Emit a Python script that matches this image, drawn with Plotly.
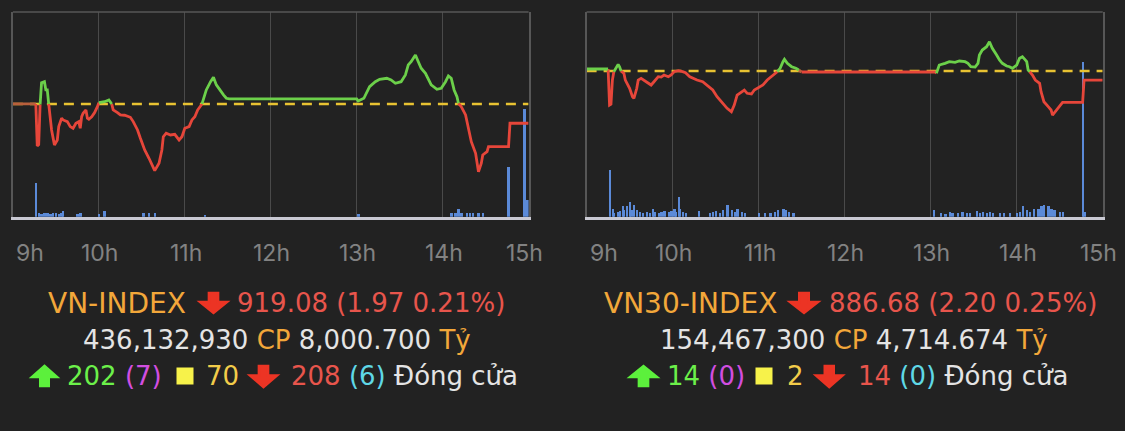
import plotly.graph_objects as go

# ---------------- data ----------------
hour_labels = ["9h", "10h", "11h", "12h", "13h", "14h", "15h"]

# VN-INDEX intraday
vn_ref = 921.05
vn_times = ["09:00", "09:16", "09:17", "09:18", "09:19", "09:20", "09:22", "09:23", "09:24", "09:25",
            "09:26", "09:27", "09:29", "09:31", "09:32", "09:34", "09:35", "09:38", "09:40", "09:42",
            "09:44", "09:46", "09:47", "09:48", "09:49", "09:51", "09:52", "09:53", "09:55", "09:57",
            "09:59", "10:00", "10:04", "10:07", "10:09", "10:10", "10:13", "10:15", "10:18", "10:22",
            "10:24", "10:27", "10:29", "10:32", "10:35", "10:37", "10:39", "10:42", "10:44", "10:45",
            "10:47", "10:50", "10:53", "10:56", "10:58", "11:00", "11:03", "11:05", "11:07", "11:09",
            "11:12", "11:13", "11:15", "11:18", "11:20", "11:22", "11:25", "11:27", "11:29", "11:31",
            "13:00", "13:01", "13:05", "13:07", "13:09", "13:13", "13:16", "13:21", "13:24", "13:27",
            "13:29", "13:31", "13:34", "13:36", "13:38", "13:41", "13:43", "13:45", "13:48", "13:50",
            "13:52", "13:56", "13:59", "14:02", "14:04", "14:06", "14:08", "14:10", "14:11", "14:13",
            "14:16", "14:18", "14:20", "14:23", "14:24", "14:25", "14:27", "14:28", "14:31", "14:32",
            "14:46", "14:47", "15:00"]
vn_price = [921.05, 921.05, 916.77, 916.90, 921.00, 923.22, 923.32, 922.48, 922.48, 921.05,
            919.75, 918.40, 916.87, 917.38, 918.74, 919.59, 919.42, 919.25, 918.74, 918.57,
            919.08, 919.25, 918.57, 919.75, 920.10, 920.44, 919.59, 919.49, 919.75, 920.16,
            920.77, 921.18, 921.28, 921.46, 921.05, 920.44, 920.16, 919.93, 919.90, 919.69,
            919.25, 918.40, 917.55, 916.36, 915.51, 914.83, 914.25, 915.00, 916.36, 917.71,
            918.06, 917.89, 917.95, 917.38, 917.71, 918.57, 918.74, 919.42, 919.75, 920.44,
            921.05, 921.46, 922.48, 923.32, 923.77, 922.99, 922.30, 921.97, 921.63, 921.56,
            921.56, 921.36, 921.63, 922.30, 922.81, 923.32, 923.57, 923.67, 923.50, 923.16,
            923.22, 923.32, 924.01, 925.03, 925.36, 926.05, 925.36, 924.69, 924.18, 923.50,
            922.99, 922.55, 922.65, 923.32, 923.91, 923.67, 922.48, 921.79, 921.12, 920.77,
            919.93, 918.57, 917.20, 916.02, 915.00, 914.14, 915.00, 915.85, 916.19, 916.70,
            916.70, 919.08, 919.08]
vn_vol_times = ["09:16", "09:18", "09:20", "09:22", "09:24", "09:26", "09:28", "09:30", "09:32", "09:34",
                "09:35", "09:45", "09:47", "10:00", "10:04", "10:31", "10:35", "10:39", "11:14", "13:01",
                "14:06", "14:09", "14:11", "14:13", "14:17", "14:19", "14:21", "14:25", "14:28",
                "14:46", "14:57", "14:59"]
vn_vol = [9.8, 1.0, 0.9, 1.0, 1.0, 0.9, 1.0, 1.0, 0.9, 1.0,
          1.7, 0.9, 1.0, 0.8, 1.7, 1.0, 1.0, 1.0, 0.6, 0.7,
          1.0, 1.0, 2.4, 1.0, 1.0, 1.0, 1.0, 1.0, 1.0,
          14.7, 31.6, 4.9]

# VN30-INDEX intraday
vn30_ref = 888.88
vn30_times = ["09:00", "09:15", "09:16", "09:17", "09:18", "09:19", "09:21", "09:22", "09:23", "09:24",
              "09:26", "09:27", "09:30", "09:32", "09:33", "09:35", "09:36", "09:38", "09:40", "09:43",
              "09:45", "09:47", "09:50", "09:52", "09:54", "09:57", "09:59", "10:01", "10:04", "10:07",
              "10:09", "10:12", "10:14", "10:17", "10:21", "10:24", "10:28", "10:31", "10:35", "10:38",
              "10:41", "10:43", "10:45", "10:48", "10:50", "10:52", "10:55", "10:57", "10:59", "11:03",
              "11:06", "11:10", "11:13", "11:15", "11:17", "11:18", "11:20", "11:23", "11:26", "11:28",
              "11:30", "13:03", "13:04", "13:06", "13:10", "13:13", "13:17", "13:20", "13:24", "13:26",
              "13:28", "13:31", "13:33", "13:34", "13:36", "13:39", "13:41", "13:43", "13:46", "13:48",
              "13:50", "13:53", "13:55", "13:57", "14:00", "14:02", "14:04", "14:07", "14:08", "14:09",
              "14:11", "14:13", "14:16", "14:17", "14:19", "14:22", "14:24", "14:25", "14:27", "14:30",
              "14:32", "14:46", "14:47", "15:00"]
vn30_price = [889.37, 889.37, 880.58, 880.80, 886.68, 888.71, 890.10, 890.51, 889.90, 888.88,
              888.32, 886.68, 884.66, 882.61, 882.22, 884.66, 886.68, 887.09, 886.68, 885.88,
              885.46, 886.27, 887.49, 887.40, 887.90, 887.49, 887.90, 888.71, 888.95, 888.71,
              888.47, 887.49, 887.09, 886.68, 886.27, 885.46, 884.24, 882.61, 880.99, 879.78,
              878.95, 880.58, 883.02, 883.83, 884.24, 883.44, 883.27, 884.24, 884.66, 885.46,
              886.68, 887.90, 888.71, 889.54, 891.15, 891.73, 890.76, 889.93, 889.54, 889.12,
              888.64, 888.64, 888.32, 890.34, 890.76, 891.15, 890.99, 891.32, 891.15, 890.76,
              889.93, 889.85, 890.76, 892.78, 894.00, 894.81, 896.03, 894.41, 892.78, 891.56,
              890.76, 890.10, 889.93, 889.54, 890.34, 891.98, 892.37, 891.15, 889.12, 888.71,
              887.90, 886.68, 885.88, 883.83, 881.39, 880.17, 879.37, 878.14, 878.95, 880.17,
              881.24, 881.24, 886.68, 886.68]
vn30_vol_times = ["09:16", "09:18", "09:19", "09:22", "09:23", "09:25", "09:26", "09:28", "09:30", "09:31",
                  "09:33", "09:35", "09:37", "09:39", "09:42", "09:44", "09:46", "09:47", "09:50", "09:52",
                  "09:54", "09:57", "09:59", "10:01", "10:02", "10:04", "10:05", "10:07", "10:09", "10:18",
                  "10:26", "10:28", "10:30", "10:33", "10:35", "10:38", "10:41", "10:43", "10:45", "10:48",
                  "10:50", "11:00", "11:04", "11:08", "11:11", "11:13", "11:17", "11:19", "11:21", "11:24",
                  "13:02", "13:07", "13:10", "13:13", "13:15", "13:19", "13:22", "13:25", "13:27", "13:32",
                  "13:34", "13:36", "13:39", "13:41", "13:43", "13:48", "13:51", "13:55", "14:00", "14:02",
                  "14:04", "14:07", "14:09", "14:12", "14:15", "14:17", "14:19", "14:22", "14:24", "14:26",
                  "14:30", "14:32", "14:46", "14:47"]
vn30_vol = [6.9, 1.2, 0.6, 0.7, 0.9, 1.6, 1.0, 1.5, 2.1, 1.0,
            1.7, 1.0, 0.7, 0.6, 0.7, 0.6, 1.2, 0.7, 0.5, 0.7,
            0.8, 0.7, 0.9, 1.2, 0.7, 2.9, 1.2, 0.7, 0.5, 0.9,
            0.5, 0.7, 0.8, 0.6, 1.0, 1.7, 1.0, 0.7, 1.2, 0.7,
            0.5, 0.5, 0.5, 0.5, 0.7, 1.0, 1.2, 1.0, 0.7, 0.5,
            1.0, 0.5, 0.4, 0.7, 0.5, 0.6, 0.7, 0.5, 0.5, 0.8,
            0.6, 0.7, 0.5, 0.7, 0.6, 0.5, 0.5, 0.5, 0.6, 0.7,
            1.6, 1.0, 0.7, 1.2, 1.2, 1.5, 1.7, 1.5, 1.2, 1.0,
            0.7, 0.7, 22.6, 0.7]

# summary texts
vn_name, vn_close, vn_chg, vn_pct = "VN-INDEX", "919.08", "1.97", "0.21%"
vn_shares, vn_value = "436,132,930", "8,000.700"
vn_up, vn_ceil, vn_flat, vn_down, vn_floor = "202", "7", "70", "208", "6"
vn30_name, vn30_close, vn30_chg, vn30_pct = "VN30-INDEX", "886.68", "2.20", "0.25%"
vn30_shares, vn30_value = "154,467,300", "4,714.674"
vn30_up, vn30_ceil, vn30_flat, vn30_down, vn30_floor = "14", "0", "2", "14", "0"
status_text = "Đóng cửa"
unit_shares, unit_value = "CP", "Tỷ"

# ---------------- styling ----------------
BG = "#222222"
GREEN = "#6cd04a"
RED = "#e6463a"
BROWN = "#b9603c"
DASH = "#e8c232"
BAR = "#5b8ad8"
GRID = "#4a4a4a"
FRAME = "#575757"
BASE = "#c9c9d3"
ORANGE = "#f2a73a"
TXTRED = "#e8554c"
ARROWRED = "#ec3424"
ARROWGREEN = "#5cf03c"
LIGHT = "#e4e4e4"
TXTFONT = "DejaVu Sans, Liberation Sans, sans-serif"
TXTSIZE = 26
NAMESIZE = 28

W, H = 1125, 431


def to_min(s):
    h, m = s.split(":")
    return int(h) * 60 + int(m) - 540


def color_runs(times, prices, ref):
    t = [to_min(s) for s in times]
    runs = {GREEN: ([], []), RED: ([], []), BROWN: ([], [])}
    prev = None
    for i in range(len(t) - 1):
        mid = (prices[i] + prices[i + 1]) / 2
        c = GREEN if mid > ref + 1e-6 else (RED if mid < ref - 1e-6 else BROWN)
        xs, ys = runs[c]
        if c != prev:
            if xs:
                xs.append(None)
                ys.append(None)
            xs.append(t[i])
            ys.append(prices[i])
        xs.append(t[i + 1])
        ys.append(prices[i + 1])
        prev = c
    return runs


fig = go.Figure()

charts = [
    dict(times=vn_times, price=vn_price, ref=vn_ref, vt=vn_vol_times, vol=vn_vol,
         xa="x", ya_vol="y", ya_price="y3", width=1.8),
    dict(times=vn30_times, price=vn30_price, ref=vn30_ref, vt=vn30_vol_times, vol=vn30_vol,
         xa="x2", ya_vol="y2", ya_price="y4", width=1.6),
]

for ch in charts:
    fig.add_trace(go.Bar(x=[to_min(s) for s in ch["vt"]], y=ch["vol"], width=ch["width"],
                         marker=dict(color=BAR, line=dict(width=0)),
                         xaxis=ch["xa"], yaxis=ch["ya_vol"], showlegend=False, hoverinfo="skip"))
    fig.add_trace(go.Scatter(x=[0, 360], y=[ch["ref"], ch["ref"]], mode="lines",
                             line=dict(color=DASH, width=2.5, dash="10px,7px"),
                             xaxis=ch["xa"], yaxis=ch["ya_price"], showlegend=False, hoverinfo="skip"))
    runs = color_runs(ch["times"], ch["price"], ch["ref"])
    for col in (BROWN, RED, GREEN):
        xs, ys = runs[col]
        if xs:
            fig.add_trace(go.Scatter(x=xs, y=ys, mode="lines",
                                     line=dict(color=col, width=2.8, shape="linear"),
                                     connectgaps=False,
                                     xaxis=ch["xa"], yaxis=ch["ya_price"], showlegend=False,
                                     hoverinfo="skip"))

y_dom = [1 - 216.7 / H, 1 - 12 / H]
left_dom = [12.9 / W, 528.6 / W]
right_dom = [586.6 / W, 1102.7 / W]

xcommon = dict(range=[0, 360], tickvals=[60, 120, 180, 240, 300], showticklabels=False,
               showgrid=True, gridcolor=GRID, gridwidth=1, zeroline=False,
               showline=True, linecolor=BASE, linewidth=3, ticks="", fixedrange=True)
ycommon = dict(showticklabels=False, showgrid=False, zeroline=False, showline=True,
               mirror=True, linecolor=FRAME, linewidth=1.5, ticks="", fixedrange=True)

fig.update_layout(
    width=W, height=H,
    margin=dict(l=0, r=0, t=0, b=0),
    paper_bgcolor=BG, plot_bgcolor=BG,
    bargap=0,
    xaxis=dict(domain=left_dom, anchor="y", **xcommon),
    xaxis2=dict(domain=right_dom, anchor="y2", **xcommon),
    yaxis=dict(domain=y_dom, anchor="x", range=[0, 60], **ycommon),
    yaxis2=dict(domain=y_dom, anchor="x2", range=[0, 30], **ycommon),
    yaxis3=dict(overlaying="y", anchor="x", range=[909.55, 930.43], visible=False, fixedrange=True),
    yaxis4=dict(overlaying="y2", anchor="x2", range=[853.33, 903.28], visible=False, fixedrange=True),
    font=dict(family=TXTFONT),
)

# top frame lines
for xa, ya in (("x", "y"), ("x2", "y2")):
    fig.add_shape(type="line", xref=f"{xa} domain", yref=f"{ya} domain", x0=0, x1=1, y0=1, y1=1,
                  line=dict(color=FRAME, width=1.5), layer="above")

# hour labels
tick_y = 1 - 253 / H
for xa in ("x", "x2"):
    for i, lab in enumerate(hour_labels):
        anchor = "left" if i == 0 else "center"
        shift = -4 if i == len(hour_labels) - 1 else 1
        fig.add_annotation(x=i * 60, y=tick_y, xref=xa, yref="paper", text=lab, showarrow=False,
                           xanchor=anchor, yanchor="middle", xshift=shift,
                           font=dict(size=23, color="#828282", family="Inter, Liberation Sans, sans-serif"))


def px(X):
    return X / W


def py(Y):
    return 1 - Y / H


def sp(color, txt):
    return f'<span style="color:{color}">{txt}</span>'


def text_at(cx, cy, txt, color=LIGHT, size=TXTSIZE):
    fig.add_annotation(x=px(cx), y=py(cy), xref="paper", yref="paper", text=txt,
                       showarrow=False, xanchor="center", yanchor="middle",
                       font=dict(size=size, color=color, family=TXTFONT))


def arrow(x0, x1, ytop, ybot, color, down=True):
    w = x1 - x0
    cx = (x0 + x1) / 2
    head = 0.55 * (ybot - ytop)
    stem = 0.17 * w
    if down:
        pts = [(cx - stem, ytop), (cx + stem, ytop), (cx + stem, ybot - head), (x1, ybot - head),
               (cx, ybot), (x0, ybot - head), (cx - stem, ybot - head)]
    else:
        pts = [(cx - stem, ybot), (cx + stem, ybot), (cx + stem, ytop + head), (x1, ytop + head),
               (cx, ytop), (x0, ytop + head), (cx - stem, ytop + head)]
    path = "M " + " L ".join(f"{px(a):.5f},{py(b):.5f}" for a, b in pts) + " Z"
    fig.add_shape(type="path", xref="paper", yref="paper", path=path,
                  fillcolor=color, line=dict(color=color, width=2.5))


def square(x0, x1, cy, color):
    s = (x1 - x0) / 2
    fig.add_shape(type="rect", xref="paper", yref="paper", x0=px(x0 + 0.5), x1=px(x1 - 0.5),
                  y0=py(cy + s - 0.5), y1=py(cy - s + 0.5), fillcolor=color,
                  line=dict(color=color, width=2))


R1, R2, R3 = 303, 340, 376

# ---- VN-INDEX block ----
text_at(117, R1, vn_name, ORANGE, NAMESIZE)
arrow(200, 227, R1 - 10, R1 + 10, ARROWRED, down=True)
text_at(371.5, R1, f"{vn_close} ({vn_chg} {vn_pct})", TXTRED)
text_at(277, R2, " ".join([sp(LIGHT, vn_shares), sp(ORANGE, unit_shares),
                           sp(LIGHT, vn_value), sp(ORANGE, unit_value)]))
arrow(32, 57, R3 - 10, R3 + 10, ARROWGREEN, down=False)
text_at(114.5, R3, " ".join([sp("#6cf04a", vn_up), sp("#d24ee0", f"({vn_ceil})")]))
square(177, 193, R3, "#f7f24a")
text_at(222, R3, vn_flat, "#f2cc4a")
arrow(250, 277, R3 - 10, R3 + 11, ARROWRED, down=True)
text_at(404.5, R3, " ".join([sp(TXTRED, vn_down), sp("#5fd8e6", f"({vn_floor})"), sp(LIGHT, status_text)]))

# ---- VN30-INDEX block ----
text_at(690.3, R1, vn30_name, ORANGE, NAMESIZE)
arrow(790, 818, R1 - 10, R1 + 10, ARROWRED, down=True)
text_at(962.8, R1, f"{vn30_close} ({vn30_chg} {vn30_pct})", TXTRED)
text_at(854, R2, " ".join([sp(LIGHT, vn30_shares), sp(ORANGE, unit_shares),
                           sp(LIGHT, vn30_value), sp(ORANGE, unit_value)]))
arrow(630, 657, R3 - 10, R3 + 10, ARROWGREEN, down=False)
text_at(706, R3, " ".join([sp("#6cf04a", vn30_up), sp("#d24ee0", f"({vn30_ceil})")]))
square(756, 772, R3, "#f7f24a")
text_at(795, R3, vn30_flat, "#f2cc4a")
arrow(816, 842.5, R3 - 10, R3 + 11, ARROWRED, down=True)
text_at(962.5, R3, " ".join([sp(TXTRED, vn30_down), sp("#5fd8e6", f"({vn30_floor})"), sp(LIGHT, status_text)]))

fig.write_html("out.html")
